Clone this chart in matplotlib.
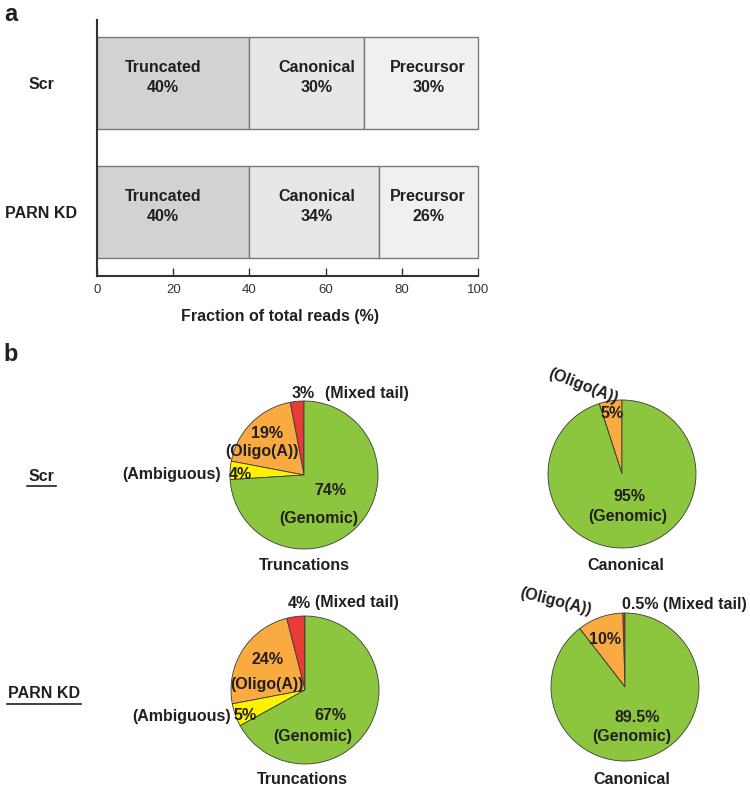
import matplotlib
matplotlib.use("Agg")
import matplotlib.pyplot as plt
from matplotlib.lines import Line2D

plt.rcParams['font.family'] = ['Liberation Sans', 'DejaVu Sans']

# ---------------- data ----------------
conditions = ["Scr", "PARN KD"]
bar_categories = ["Truncated", "Canonical", "Precursor"]
scr_fractions = [40, 30, 30]
parn_fractions = [40, 34, 26]
bar_colors = ["#d1d2d4", "#e6e7e8", "#f0f0f0"]
x_ticks = [0, 20, 40, 60, 80, 100]

pie_categories = ["Mixed tail", "Oligo(A)", "Ambiguous", "Genomic"]
pie_colors = ["#e63b36", "#f9ab42", "#fff200", "#8cc63f"]
scr_truncations = [3, 19, 4, 74]
scr_canonical = [0, 5, 0, 95]
parn_truncations = [4, 24, 5, 67]
parn_canonical = [0.5, 10, 0, 89.5]

TXT = "#231f20"
W, H = 750, 788
fig = plt.figure(figsize=(W / 100, H / 100), dpi=100)

def fx(px):
    return px / W

def fy(py):
    return 1 - py / H

# ---------------- panel a ----------------
axl, axr, axt, axb = 97, 478, 20, 276
ax = fig.add_axes([fx(axl), fy(axb), fx(axr - axl), (axb - axt) / H])
ypos = [1, 0]
bh = 0.715
label_x = [17.3, 57.7, 86.9]
for yi, vals in zip(ypos, [scr_fractions, parn_fractions]):
    left = 0
    for k, v in enumerate(vals):
        bars = ax.barh(yi, v, left=left, height=bh, color=bar_colors[k],
                       edgecolor="#7a7a7a", linewidth=1.0, zorder=2)
        for b in bars:
            b.set_clip_on(False)
        ax.text(label_x[k], yi + 0.04, f"{bar_categories[k]}\n{v}%",
                ha="center", va="center", fontsize=11.5, fontweight="bold",
                color=TXT, linespacing=1.4, zorder=3)
        left += v
ax.set_xlim(0, 100)
ax.set_ylim(-0.496, 1.488)
ax.set_xticks(x_ticks)
ax.set_xticklabels([str(t) for t in x_ticks], fontsize=9.5, color="#333333")
ax.tick_params(axis="x", direction="in", length=6, width=1.0, color="#333333", pad=6)
ax.set_yticks(ypos)
ax.set_yticklabels(conditions, fontsize=11.5, fontweight="bold", color=TXT, ha="center")
ax.tick_params(axis="y", length=0, pad=(axl - 41) * 0.72)
for s in ["top", "right"]:
    ax.spines[s].set_visible(False)
for s in ["left", "bottom"]:
    ax.spines[s].set_color("#333333")
    ax.spines[s].set_linewidth(1.5)
ax.set_xlabel("Fraction of total reads (%)", fontsize=11.5, fontweight="bold",
              color=TXT, va="center")
ax.xaxis.set_label_coords((280 - axl) / (axr - axl), -(316 - axb) / (axb - axt))

# ---------------- panel b ----------------
pax = fig.add_axes([0, 0, 1, 1])

def Y(py):
    return H - py

R = 74
pies = [
    (scr_truncations, (304, 475)),
    (scr_canonical, (622, 474)),
    (parn_truncations, (305, 690)),
    (parn_canonical, (625, 687)),
]
for vals, (cx, cy) in pies:
    pax.pie(vals, colors=pie_colors, startangle=90, counterclock=True,
            center=(cx, Y(cy)), radius=R,
            wedgeprops=dict(edgecolor="#3a3a3a", linewidth=0.6))
pax.set_xlim(0, W)
pax.set_ylim(0, H)
pax.set_aspect("equal")
pax.axis("off")

def t(x, y, s, ha="center", rot=0, size=11.5):
    pax.text(x, Y(y), s, ha=ha, va="center", fontsize=size, fontweight="bold",
             color=TXT, rotation=rot, rotation_mode="anchor")

# Scr truncations
t(292, 393, f"{scr_truncations[0]}%", ha="left")
t(325, 393, f"({pie_categories[0]})", ha="left")
t(267, 433, f"{scr_truncations[1]}%")
t(262, 451, f"({pie_categories[1]})")
t(221, 474, f"({pie_categories[2]})", ha="right")
t(229, 474, f"{scr_truncations[2]}%", ha="left")
t(330, 490, f"{scr_truncations[3]}%")
t(319, 519, f"({pie_categories[3]})")
t(304, 566, "Truncations")

# Scr canonical
t(583, 386, f"({pie_categories[1]})", rot=-21)
t(612, 413, f"{scr_canonical[1]:g}%")
t(629, 496, f"{scr_canonical[3]:g}%")
t(628, 517, f"({pie_categories[3]})")
t(626, 566, "Canonical")

# PARN truncations
t(288, 603, f"{parn_truncations[0]}%", ha="left")
t(315, 603, f"({pie_categories[0]})", ha="left")
t(268, 659, f"{parn_truncations[1]}%")
t(267, 684, f"({pie_categories[1]})")
t(231, 716, f"({pie_categories[2]})", ha="right")
t(233, 716, f"{parn_truncations[2]}%", ha="left")
t(330, 716, f"{parn_truncations[3]}%")
t(313, 737, f"({pie_categories[3]})")
t(302, 779, "Truncations")

# PARN canonical
t(556, 602, f"({pie_categories[1]})", rot=-14)
t(622, 604, f"{parn_canonical[0]:g}% ({pie_categories[0]})", ha="left")
t(605, 640, f"{parn_canonical[1]:g}%")
t(637, 717, f"{parn_canonical[3]:g}%")
t(632, 737, f"({pie_categories[3]})")
t(632, 779, "Canonical")

# row labels with underline
t(41, 476, conditions[0])
pax.add_line(Line2D([27, 56], [Y(486), Y(486)], color=TXT, lw=1.2))
t(44, 693, conditions[1])
pax.add_line(Line2D([7, 81], [Y(704), Y(704)], color=TXT, lw=1.2))

# panel letters
t(11, 14, "a", size=17)
t(11, 354, "b", size=17)

fig.savefig("out.png", dpi=100)
